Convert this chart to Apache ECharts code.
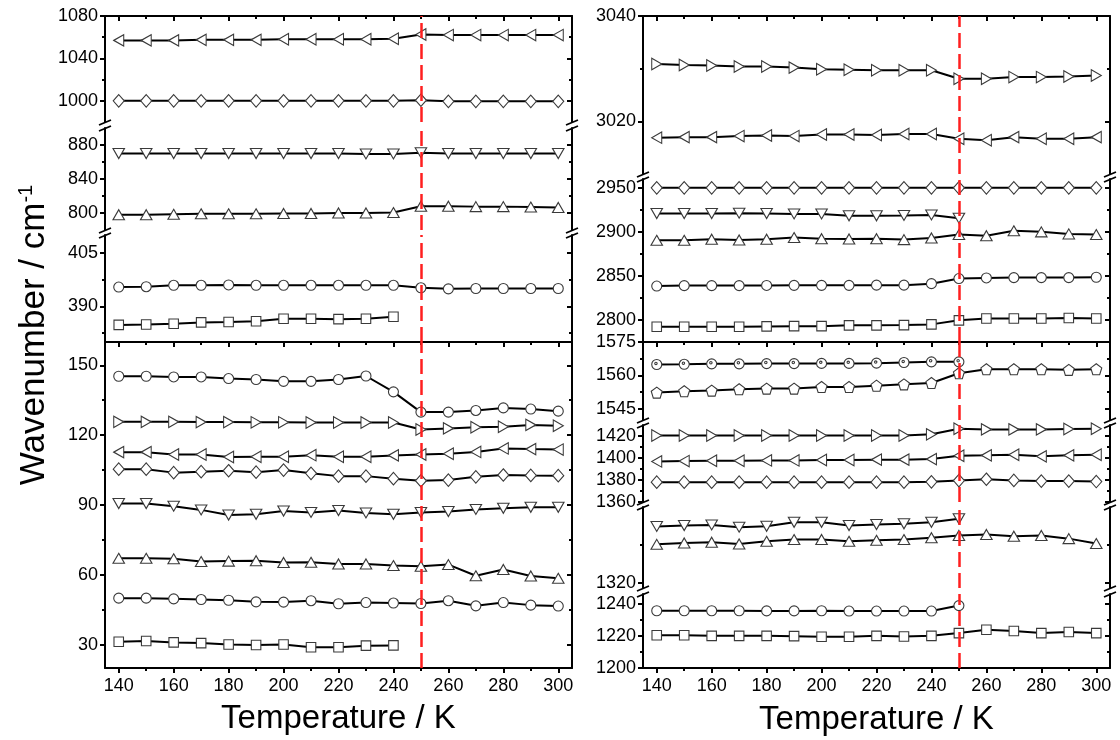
<!DOCTYPE html>
<html><head><meta charset="utf-8">
<script src="https://cdn.jsdelivr.net/npm/echarts@6/dist/echarts.min.js"></script>
<style>html,body{margin:0;padding:0;background:#fff}#c{width:1120px;height:740px}</style>
</head><body><div id="c"></div>
<script>
// ---------------- DATA ----------------
const temps = [140,150,160,170,180,190,200,210,220,230,240,250,260,270,280,290,300];
const xMajor = [140,160,180,200,220,240,260,280,300];
const xMinor = [150,170,190,210,230,250,270,290];

// Left column, upper panel
const L1_leftTri = [1057,1057,1057,1057.5,1057.5,1057.5,1058,1058,1058,1058,1058.5,1062.5,1062,1062,1062,1062,1062];
const L1_diamond = [1000,1000,1000,1000,1000,1000,1000,1000,1000,1000,1000,1000.5,999.5,999.5,999.5,999.5,999.5];
const L2_downTri = [870,870,870,870,870,870,870,870,870,869.5,869.5,871,870,870,870,870,870];
const L2_upTri = [798,798,798.5,799,799,799,799.5,799.5,800,800,800.5,808,808,807.5,807.5,807,806.5];
const L3_circle = [395.4,395.5,395.9,395.9,396,395.9,395.9,395.9,395.9,395.9,395.9,395.2,394.9,395,395,395,395];
const L3_square = [384.8,384.9,385.1,385.5,385.6,385.8,386.5,386.5,386.4,386.5,387.1,null,null,null,null,null,null];
// Left column, lower panel
const L4_circleTop = [145.3,145.3,145,145,144.3,143.9,143.1,143.1,143.9,145.4,138.6,129.9,129.9,130.6,131.7,131.2,130.3];
const L4_rightTri = [125.7,125.7,125.7,125.6,125.6,125.5,125.5,125.4,125.4,125.4,125.4,122.4,122.9,123.4,123.6,124.4,124];
const L4_leftTri = [112.7,112.7,111.7,111.7,110.6,110.7,110.7,111.4,110.7,110.7,111.3,111.7,112,112.8,114.3,114,113.8];
const L4_diamond = [105.4,105.4,103.9,104.3,104.7,104.1,105,103.6,102.4,102.4,101.3,100.4,100.7,102.1,102.9,102.7,102.6];
const L4_downTri = [90.6,90.6,89.5,87.9,85.7,86,87.4,86.8,87.6,86.6,86,86.8,87.2,88.1,88.6,89,89];
const L4_upTri = [67.1,67.1,66.9,65.7,65.9,66.1,65.3,65.4,64.7,64.7,64,63.7,64.4,59.6,62.3,59.5,58.5];
const L4_circleBot = [50,50,49.7,49.4,49.1,48.4,48.3,48.9,47.6,48.1,47.9,47.7,48.9,46.7,48.1,47,46.6];
const L4_square = [31.3,31.6,31,30.7,30.1,29.9,30.1,28.9,28.9,29.6,29.7,null,null,null,null,null,null];

// Right column, upper panel
const R1_rightTri = [3030.9,3030.7,3030.6,3030.4,3030.4,3030.2,3029.9,3029.8,3029.7,3029.7,3029.7,3028.1,3028.1,3028.4,3028.4,3028.5,3028.7];
const R1_leftTri = [3016.9,3017,3017,3017.2,3017.3,3017.2,3017.5,3017.5,3017.4,3017.6,3017.6,3016.7,3016.4,3017,3016.7,3016.7,3017];
const R2_diamond = [2950,2950,2950,2950,2950,2950,2950,2950,2950,2950,2950,2950,2950,2950,2950,2950,2950];
const R2_downTri = [2920.8,2920.8,2920.8,2921.2,2920.8,2920.4,2920.4,2918.3,2918.3,2918.7,2919.2,2915.5,null,null,null,null,null];
const R2_upTri = [2890.4,2890.4,2891.6,2890.8,2891.6,2893.5,2892.3,2892,2892.3,2891.2,2893.1,2896.9,2895.7,2901.2,2900,2897.7,2896.9];
const R2_circle = [2838.5,2839,2839,2839,2839.2,2839.3,2839.3,2839.3,2839.5,2839.5,2841.2,2847,2847.7,2848.1,2848.1,2848.1,2848.5];
const R2_square = [2792.3,2792.3,2792.3,2792.3,2792.7,2793,2793,2793.9,2793.9,2794.2,2795,2799.6,2801.6,2801.6,2801.6,2802.3,2801.6];
// Right column, lower panel
const R3_dotCircle = [1564.9,1565,1565.2,1565.2,1565.3,1565.3,1565.4,1565.4,1565.5,1565.8,1566.1,1566.1,null,null,null,null,null];
const R3_pentagon = [1552.3,1552.9,1553.2,1553.8,1554.1,1554.1,1554.8,1554.8,1555.4,1556,1556.6,1561,1562.8,1562.8,1562.8,1562.5,1562.8];
const R4_rightTri = [1420.5,1420.5,1420.5,1420.5,1420.5,1420.5,1420.5,1420.5,1420.5,1420.5,1421.5,1426.6,1426,1426,1426,1426.3,1426.6];
const R4_leftTri = [1396.9,1397.2,1397.5,1397.5,1397.8,1397.8,1398.2,1398.2,1398.5,1398.5,1399,1402.1,1402.4,1403,1401.5,1402.4,1403];
const R4_diamond = [1378,1378,1378,1378,1378,1378,1378,1378,1378,1378,1378.3,1379.5,1380.7,1379.6,1379,1379,1378.6];
const R5_downTri = [1349.8,1350.3,1350.6,1349.4,1349.9,1352,1352,1350.3,1350.8,1351.2,1352,1353.8,null,null,null,null,null];
const R5_upTri = [1340.4,1341.1,1341.5,1340.6,1342,1342.9,1343,1342,1342.5,1342.9,1343.9,1345.1,1345.6,1344.7,1345.1,1343.4,1340.8];
const R6_circle = [1235.6,1235.6,1235.6,1235.6,1235.5,1235.5,1235.6,1235.4,1235.4,1235.4,1235.4,1238.8,null,null,null,null,null];
const R6_square = [1220.4,1220.4,1220,1220,1220,1219.8,1219.4,1219.4,1220,1219.6,1220,1221.7,1223.8,1223,1221.7,1222.4,1221.7];

// tick values (major labelled, minor unlabelled)
const yMajL1 = [1000,1040,1080], yMinL1 = [1020,1060];
const yMajL2 = [800,840,880],   yMinL2 = [820,860];
const yMajL3 = [390,405],       yMinL3 = [382.5,397.5];
const yMajL4 = [30,60,90,120,150], yMinL4 = [45,75,105,135];
const yMajR1 = [3020,3040], yMinR1 = [3030];
const yMajR2 = [2800,2850,2900,2950], yMinR2 = [2825,2875,2925];
const yMajR3 = [1545,1560,1575], yMinR3 = [1552.5,1567.5];
const yMajR4 = [1360,1380,1400,1420], yMinR4 = [1370,1390,1410];
const yMajR5 = [1320], yMinR5 = [1340];
const yMajR6 = [1200,1220,1240], yMinR6 = [1210,1230];
const transitionT = 250;

// ---------------- STYLE / LAYOUT ----------------
const FONT = '"Liberation Sans", Arial, sans-serif';
const AX = {color:'#000', width:2};
const SYM = {
  circle: {symbol:'circle', size:10},
  square: {symbol:'rect', size:9.5},
  up: {symbol:'path://M5,0L10,8.7L0,8.7Z', size:[11.5,10]},
  down: {symbol:'path://M0,0L10,0L5,8.7Z', size:[11.5,10]},
  left: {symbol:'path://M0,5L8.7,0L8.7,10Z', size:[10,11.5]},
  right: {symbol:'path://M8.7,5L0,0L0,10Z', size:[10,11.5]},
  diamond: {symbol:'diamond', size:[11,12.5]},
  pent: {symbol:'path://M5,0L10,3.6L8.1,9.5L1.9,9.5L0,3.6Z', size:11},
  dotc: {symbol:'path://M10,5A5,5 0 1 1 0,5A5,5 0 1 1 10,5ZM5.4,3.9A1.2,1.2 0 1 1 3,3.9A1.2,1.2 0 1 1 5.4,3.9Z', size:10}
};
const cols = [{left:105, width:467}, {left:643, width:467}];
const segs = [
  {c:0, y0:16,  y1:122, min:980,  max:1080, maj:yMajL1, mnr:yMinL1, xTop:true, ser:[[L1_leftTri,'left'],[L1_diamond,'diamond']]},
  {c:0, y0:128, y1:230, min:780,  max:900,  maj:yMajL2, mnr:yMinL2, ser:[[L2_downTri,'down'],[L2_upTri,'up']]},
  {c:0, y0:235, y1:342, min:380,  max:410,  maj:yMajL3, mnr:yMinL3, ser:[[L3_circle,'circle'],[L3_square,'square']]},
  {c:0, y0:342, y1:668, min:20,   max:160,  maj:yMajL4, mnr:yMinL4, xTop:true, xBot:true,
    ser:[[L4_circleTop,'circle'],[L4_rightTri,'right'],[L4_leftTri,'left'],[L4_diamond,'diamond'],[L4_downTri,'down'],[L4_upTri,'up'],[L4_circleBot,'circle'],[L4_square,'square']]},
  {c:1, y0:16,  y1:174, min:3010, max:3040, maj:yMajR1, mnr:yMinR1, xTop:true, ser:[[R1_rightTri,'right'],[R1_leftTri,'left']]},
  {c:1, y0:179, y1:342, min:2775, max:2960, maj:yMajR2, mnr:yMinR2,
    ser:[[R2_diamond,'diamond'],[R2_downTri,'down'],[R2_upTri,'up'],[R2_circle,'circle'],[R2_square,'square']]},
  {c:1, y0:342, y1:420, min:1540, max:1575, maj:yMajR3, mnr:yMinR3, xTop:true, ser:[[R3_dotCircle,'dotc'],[R3_pentagon,'pent']]},
  {c:1, y0:425, y1:502, min:1360, max:1430, maj:yMajR4, mnr:yMinR4, ser:[[R4_rightTri,'right'],[R4_leftTri,'left'],[R4_diamond,'diamond']]},
  {c:1, y0:507, y1:588, min:1317.5, max:1360, maj:yMajR5, mnr:yMinR5, ser:[[R5_downTri,'down'],[R5_upTri,'up']]},
  {c:1, y0:594, y1:668, min:1200, max:1246, maj:yMajR6, mnr:yMinR6, xBot:true, ser:[[R6_circle,'circle'],[R6_square,'square']]}
];
const plain = v => String(v);

function mkX(gi, pos, vals, len, inside, labels, line) {
  return {type:'value', gridIndex:gi, position:pos, min:135, max:305,
    axisLine:{show:line, onZero:false, lineStyle:AX},
    axisTick:{show:!!vals, inside:inside, length:len, customValues:vals || undefined, lineStyle:{color:'#000', width:2}},
    axisLabel:{show:labels, customValues:vals || undefined, formatter:plain, fontSize:18, color:'#000', fontFamily:FONT, margin:9},
    splitLine:{show:false}};
}
function mkY(gi, s, pos, vals, len, labels, line) {
  return {type:'value', gridIndex:gi, position:pos, min:s.min, max:s.max,
    axisLine:{show:line, onZero:false, lineStyle:AX},
    axisTick:{show:true, inside:pos==='right', length:len, customValues:vals, lineStyle:{color:'#000', width:2}},
    axisLabel:{show:labels, customValues:vals, formatter:plain, fontSize:18, color:'#000', fontFamily:FONT, margin:7},
    splitLine:{show:false}};
}

const option = {animation:false, backgroundColor:'#fff', grid:[], xAxis:[], yAxis:[], series:[], graphic:[]};
segs.forEach((s, gi) => {
  const c = cols[s.c];
  option.grid.push({left:c.left, width:c.width, top:s.y0, height:s.y1 - s.y0});
  const xi = option.xAxis.length;
  if (s.xBot) {
    option.xAxis.push(mkX(gi, 'bottom', xMajor, 5, false, true, true));
    option.xAxis.push(mkX(gi, 'bottom', xMinor, 3, false, false, false));
  } else if (!s.xTop) {
    option.xAxis.push(mkX(gi, 'bottom', null, 0, false, false, false));
  }
  if (s.xTop) {
    option.xAxis.push(mkX(gi, 'top', xMajor, 5, true, false, true));
    option.xAxis.push(mkX(gi, 'top', xMinor, 3, true, false, false));
  }
  const yi = option.yAxis.length;
  option.yAxis.push(mkY(gi, s, 'left', s.maj, 5, true, true));
  option.yAxis.push(mkY(gi, s, 'right', s.maj, 5, false, true));
  option.yAxis.push(mkY(gi, s, 'left', s.mnr, 3, false, false));
  option.yAxis.push(mkY(gi, s, 'right', s.mnr, 3, false, false));
  s.ser.forEach(([arr, key], k) => {
    const sym = SYM[key];
    const ser = {type:'line', xAxisIndex:xi, yAxisIndex:yi,
      data: temps.map((t, i) => [t, arr[i] == null ? '-' : arr[i]]),
      symbol:sym.symbol, symbolSize:sym.size, showSymbol:true, showAllSymbol:true,
      lineStyle:{color:'#000', width:2}, itemStyle:{color:'#fff', borderColor:'#3a3a3a', borderWidth:1.1},
      emphasis:{disabled:true}, silent:true, z:3};
    if (k === 0) {
      ser.markLine = {symbol:['none','none'], silent:true, animation:false, label:{show:false},
        lineStyle:{color:'#ff1f1f', width:2.5, type:[15,6]}, emphasis:{disabled:true},
        data:[{xAxis:transitionT}]};
    }
    option.series.push(ser);
  });
});

// axis-break marks between stacked segments
const breaks = [[0,122,128],[0,230,235],[1,174,179],[1,420,425],[1,502,507],[1,588,594]];
breaks.forEach(([ci, ya, yb]) => {
  const c = cols[ci];
  [c.left, c.left + c.width].forEach(x => {
    [ya, yb].forEach(y => {
      option.graphic.push({type:'line', silent:true, z:100,
        shape:{x1:x - 6, y1:y + 3, x2:x + 6, y2:y - 2}, style:{stroke:'#000', lineWidth:1.8}});
    });
  });
});

// axis titles
option.graphic.push({type:'text', x:cols[0].left + cols[0].width / 2, y:719, silent:true,
  style:{text:'Temperature / K', fontSize:33, fontFamily:FONT, fill:'#000', align:'center', verticalAlign:'middle'}});
option.graphic.push({type:'text', x:cols[1].left + cols[1].width / 2, y:720, silent:true,
  style:{text:'Temperature / K', fontSize:33, fontFamily:FONT, fill:'#000', align:'center', verticalAlign:'middle'}});
option.graphic.push({type:'text', x:34, y:335, rotation:Math.PI / 2, silent:true,
  style:{text:'{a|Wavenumber / cm}{b|-1}', align:'center', verticalAlign:'middle',
    rich:{a:{fontSize:35, fontFamily:FONT, fill:'#000'},
          b:{fontSize:20, fontFamily:FONT, fill:'#000', verticalAlign:'top'}}}});

const chart = echarts.init(document.getElementById('c'), null, {renderer:'canvas'});
chart.setOption(option);
</script></body></html>
